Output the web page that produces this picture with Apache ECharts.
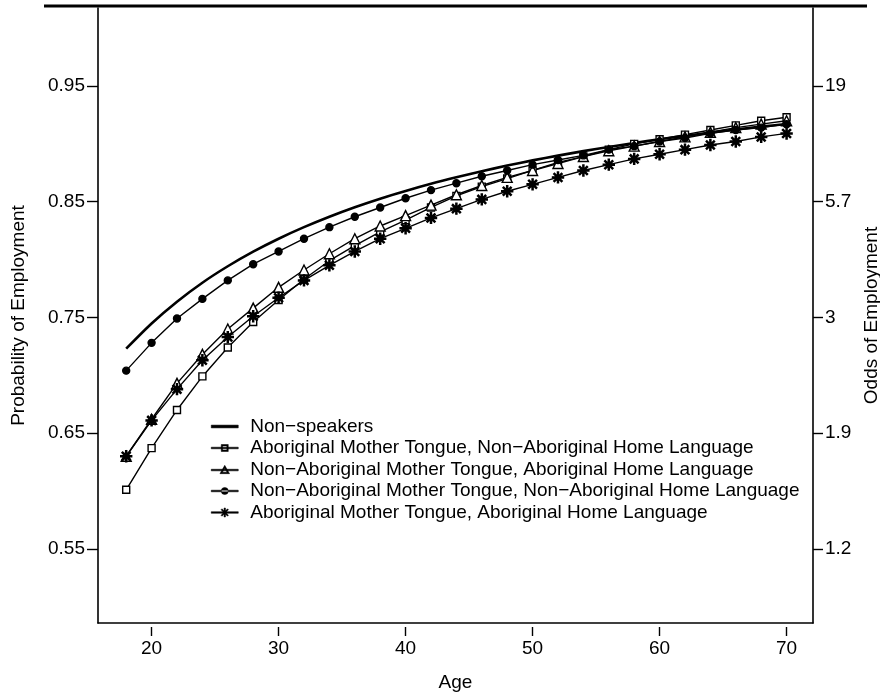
<!DOCTYPE html>
<html>
<head>
<meta charset="utf-8">
<script src="https://cdn.jsdelivr.net/npm/echarts@6/dist/echarts.min.js"></script>
<style>
  html, body { margin: 0; padding: 0; background: #fff; }
  #chart { width: 880px; height: 695px; }
</style>
</head>
<body>
<div id="chart"></div>
<script>
var dom = document.getElementById("chart");
var myChart = echarts.init(dom);

// ages every two years
var ages = [18, 20, 22, 24, 26, 28, 30, 32, 34, 36, 38, 40, 42, 44, 46, 48, 50, 52, 54, 56, 58, 60, 62, 64, 66, 68, 70];

// predicted probabilities
var nonSpeakers   = [0.7230, 0.7448, 0.7636, 0.7800, 0.7942, 0.8068, 0.8180, 0.8280, 0.8370, 0.8452, 0.8526, 0.8593, 0.8655, 0.8711, 0.8763, 0.8812, 0.8857, 0.8898, 0.8937, 0.8973, 0.9007, 0.9039, 0.9069, 0.9097, 0.9124, 0.9149, 0.9172];
var amtNonAbHome  = [0.601, 0.637, 0.670, 0.699, 0.724, 0.746, 0.765, 0.783, 0.799, 0.812, 0.824, 0.834, 0.845, 0.855, 0.863, 0.870, 0.877, 0.884, 0.889, 0.895, 0.900, 0.904, 0.908, 0.912, 0.916, 0.920, 0.923];
var nonAmtAbHome  = [0.630, 0.662, 0.693, 0.718, 0.740, 0.758, 0.776, 0.791, 0.805, 0.818, 0.829, 0.838, 0.847, 0.856, 0.864, 0.871, 0.877, 0.883, 0.889, 0.894, 0.898, 0.902, 0.906, 0.910, 0.914, 0.917, 0.920];
var nonAmtNonHome = [0.704, 0.728, 0.749, 0.766, 0.782, 0.796, 0.807, 0.818, 0.828, 0.837, 0.845, 0.853, 0.860, 0.866, 0.872, 0.877, 0.882, 0.886, 0.890, 0.895, 0.898, 0.902, 0.905, 0.909, 0.912, 0.914, 0.917];
var amtAbHome     = [0.630, 0.661, 0.688, 0.713, 0.733, 0.751, 0.767, 0.782, 0.795, 0.807, 0.818, 0.827, 0.836, 0.844, 0.852, 0.859, 0.865, 0.871, 0.877, 0.882, 0.887, 0.891, 0.895, 0.899, 0.902, 0.906, 0.909];

var seriesNames = [
  'Non\u2212speakers',
  'Aboriginal Mother Tongue, Non\u2212Aboriginal Home Language',
  'Non\u2212Aboriginal Mother Tongue, Aboriginal Home Language',
  'Non\u2212Aboriginal Mother Tongue, Non\u2212Aboriginal Home Language',
  'Aboriginal Mother Tongue, Aboriginal Home Language'
];

// axis ticks
var xTicks = [20, 30, 40, 50, 60, 70];
var probTicks = [0.55, 0.65, 0.75, 0.85, 0.95];
var oddsLabels = ['1.2', '1.9', '3', '5.7', '19'];

var FONT = 'Liberation Sans';
var FS = 19;
var asterisk = 'path://M0,9L20,9L20,11L0,11ZM9,0L11,0L11,20L9,20ZM2.22,3.64L3.64,2.22L17.78,16.36L16.36,17.78ZM16.36,2.22L17.78,3.64L3.64,17.78L2.22,16.36Z';

// legend keys: a short line with the series marker drawn on it
var legendIcons = [
  'path://M0,0L27,0L27,2.8L0,2.8Z',
  'path://M0,4.2L27,4.2L27,5.8L0,5.8ZM10,1.5L17,1.5L17,8.5L10,8.5ZM11.4,2.9L11.4,7.1L15.6,7.1L15.6,2.9Z',
  'path://M0,4.2L27,4.2L27,5.8L0,5.8ZM13.5,0.3L18.3,8.6L8.7,8.6ZM13.5,3.1L11.2,7.3L15.8,7.3Z',
  'path://M0,4.2L27,4.2L27,5.8L0,5.8ZM10,5A3.5,3.5 0 1,0 17,5A3.5,3.5 0 1,0 10,5Z',
  'path://M0,4.2L27,4.2L27,5.8L0,5.8ZM12.8,0.5L14.2,0.5L14.2,9.5L12.8,9.5ZM10.74,1.3L17.2,7.76L16.26,8.7L9.8,2.24ZM16.26,1.3L17.2,2.24L10.74,8.7L9.8,7.76Z'
];

function pairs(vals) {
  var out = [];
  for (var i = 0; i < ages.length; i++) {
    out.push([ages[i], vals[i]]);
  }
  return out;
}

function markerSeries(name, vals, symbol, size, fill) {
  return {
    name: name,
    type: 'line',
    data: pairs(vals),
    symbol: symbol,
    symbolSize: size,
    showAllSymbol: true,
    lineStyle: { color: '#000', width: 1.4 },
    itemStyle: { color: fill, borderColor: '#000', borderWidth: 1.4 },
    emphasis: { disabled: true },
    z: 3
  };
}

var legendData = seriesNames.map(function (n, i) {
  return { name: n, icon: legendIcons[i] };
});

var xMin = 15.78, xMax = 72.08;
var yMin = 0.4859, yMax = 1.0174;

option = {
  animation: false,
  backgroundColor: '#fff',
  textStyle: { fontFamily: FONT },
  grid: { left: 98, right: 67, top: 8, bottom: 72, containLabel: false, outerBoundsMode: 'none' },
  legend: {
    orient: 'vertical',
    left: 206,
    top: 412,
    itemWidth: 27,
    itemHeight: 10,
    itemGap: 2.5,
    selectedMode: false,
    data: legendData,
    itemStyle: { color: '#000', borderColor: '#000', borderWidth: 0.5 },
    textStyle: { fontFamily: FONT, fontSize: FS, color: '#000', lineHeight: 19, padding: [0, 0, 0, 7] }
  },
  xAxis: [
    {
      type: 'value',
      min: xMin, max: xMax,
      name: 'Age',
      nameLocation: 'middle',
      nameGap: 50,
      nameTextStyle: { fontFamily: FONT, fontSize: FS, color: '#000' },
      axisLine: { lineStyle: { color: '#000', width: 1.6 } },
      axisTick: { show: false },
      axisLabel: { show: false },
      splitLine: { show: false }
    },
    {
      type: 'value',
      position: 'bottom',
      offset: 4,
      min: xMin, max: xMax,
      axisLine: { show: false },
      axisTick: { show: true, length: 9, customValues: xTicks, lineStyle: { color: '#000', width: 1.4 } },
      axisLabel: { customValues: xTicks, margin: 12, fontFamily: FONT, fontSize: FS, color: '#000' },
      splitLine: { show: false }
    }
  ],
  yAxis: [
    {
      type: 'value',
      position: 'left',
      min: yMin, max: yMax,
      name: 'Probability of Employment',
      nameLocation: 'middle',
      nameGap: 70,
      nameTextStyle: { fontFamily: FONT, fontSize: FS, color: '#000' },
      axisLine: { show: true, lineStyle: { color: '#000', width: 1.6 } },
      axisTick: { show: true, length: 11, customValues: probTicks, lineStyle: { color: '#000', width: 1.4 } },
      axisLabel: { customValues: probTicks, margin: 13, fontFamily: FONT, fontSize: FS, color: '#000',
        formatter: function (v) { return v.toFixed(2); } },
      splitLine: { show: false }
    },
    {
      type: 'value',
      position: 'right',
      min: yMin, max: yMax,
      name: 'Odds of Employment',
      nameLocation: 'middle',
      nameGap: 34,
      nameRotate: 90,
      nameTextStyle: { fontFamily: FONT, fontSize: FS, color: '#000' },
      axisLine: { show: true, lineStyle: { color: '#000', width: 1.6 } },
      axisTick: { show: true, length: 10, customValues: probTicks, lineStyle: { color: '#000', width: 1.4 } },
      axisLabel: { customValues: probTicks, margin: 12, fontFamily: FONT, fontSize: FS, color: '#000',
        formatter: function (v) {
          for (var i = 0; i < probTicks.length; i++) {
            if (Math.abs(probTicks[i] - v) < 1e-6) return oddsLabels[i];
          }
          return '';
        } },
      splitLine: { show: false }
    }
  ],
  graphic: [
    {
      type: 'line',
      shape: { x1: 44, y1: 6, x2: 867, y2: 6 },
      style: { stroke: '#000', lineWidth: 3 },
      silent: true
    }
  ],
  series: [
    {
      name: seriesNames[0],
      type: 'line',
      data: pairs(nonSpeakers),
      symbol: 'none',
      smooth: 0.3,
      lineStyle: { color: '#000', width: 2.6 },
      itemStyle: { color: '#000' },
      emphasis: { disabled: true },
      z: 2
    },
    markerSeries(seriesNames[1], amtNonAbHome, 'rect', 7, '#fff'),
    markerSeries(seriesNames[2], nonAmtAbHome, 'triangle', 10, '#fff'),
    markerSeries(seriesNames[3], nonAmtNonHome, 'circle', 7, '#000'),
    markerSeries(seriesNames[4], amtAbHome, asterisk, 11, '#000')
  ]
};

if (option && typeof option === "object") {
  myChart.setOption(option, true);
}
</script>
</body>
</html>
